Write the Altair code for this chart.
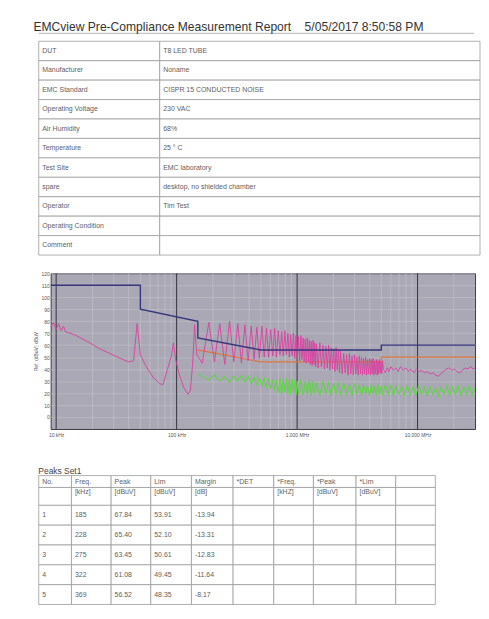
import altair as alt
import pandas as pd

FONT = "Liberation Sans"

# ---------------- report header ----------------
report_title = "EMCview Pre-Compliance Measurement Report"
report_time = "5/05/2017 8:50:58 PM"

info_fields = ["DUT", "Manufacturer", "EMC Standard", "Operating Voltage", "Air Humidity",
               "Temperature", "Test Site", "spare", "Operator", "Operating Condition", "Comment"]
info_values = ["T8 LED TUBE", "Noname", "CISPR 15 CONDUCTED NOISE", "230 VAC", "68%",
               "25 \u00b0 C", "EMC laboratory", "desktop, no shielded chamber", "Tim Test", "", ""]

# ---------------- spectrum (freq in kHz, level in dBuV) ----------------
qp_limit = [(9, 110), (50, 110), (50, 90), (150, 80), (150, 66), (500, 56),
            (5000, 56), (5000, 60), (30000, 60)]
av_limit = [(150, 56), (500, 46), (5000, 46), (5000, 50), (30000, 50)]

peak_trace = [
    (9, 75), (9.5, 79), (10, 73), (10.5, 78), (11, 72), (11.5, 76), (12, 71), (13, 70), (14, 69),
    (16, 66), (19, 62), (23, 57), (28, 53), (34, 49), (40, 46), (44, 47), (47, 78), (50, 52),
    (56, 42), (64, 33), (72, 28), (77, 27), (84, 40), (90, 50), (94, 62), (98, 48), (105, 36),
    (114, 25), (124, 19), (130, 22), (136, 45), (141, 77), (147, 52), (163, 45), (185, 79),
    (206, 46), (228, 78), (251, 44), (275, 80), (298, 46), (322, 78), (345, 45), (369, 77),
    (392, 47), (416, 76), (440, 48), (463, 75), (486, 49), (510, 76), (533, 50), (557, 74),
    (580, 50), (604, 73), (627, 51), (651, 74), (674, 50), (698, 72), (721, 52), (745, 71),
    (768, 51), (792, 72), (815, 52), (839, 70), (862, 50), (886, 69), (909, 51), (933, 70),
    (956, 49), (980, 68), (1003, 48), (1027, 67), (1050, 47), (1074, 68), (1097, 48), (1121, 66),
    (1144, 46), (1168, 65), (1191, 45), (1215, 66), (1238, 46), (1262, 64), (1285, 44), (1309, 63),
    (1332, 43), (1356, 64), (1379, 44), (1403, 62), (1426, 42), (1450, 61), (1497, 41), (1544, 62),
    (1591, 42), (1638, 60), (1685, 40), (1732, 59), (1779, 41), (1826, 60), (1873, 39), (1920, 58),
    (1967, 40), (2014, 57), (2061, 38), (2108, 58), (2155, 39), (2202, 56), (2249, 37), (2296, 55),
    (2366, 36), (2437, 53), (2507, 37), (2578, 52), (2648, 35), (2719, 53), (2789, 36), (2860, 51),
    (2930, 35), (3001, 52), (3071, 36), (3142, 50), (3212, 35), (3283, 51), (3353, 36), (3424, 50),
    (3494, 35), (3565, 49), (3635, 36), (3706, 50), (3776, 35), (3847, 48), (3917, 36), (3988, 49),
    (4058, 35), (4129, 48), (4199, 36), (4270, 49), (4340, 35), (4411, 47), (4481, 36), (4552, 48),
    (4622, 35), (4693, 47), (4763, 36), (4834, 48), (4904, 37), (4975, 46), (5045, 36), (5116, 47),
    (5200, 40), (5400, 37), (5600, 41), (5800, 38), (6000, 42), (6300, 39), (6600, 41), (6900, 38),
    (7200, 42), (7600, 39), (8000, 41), (8400, 38), (8800, 40), (9300, 37), (9800, 40), (10300, 38),
    (10800, 39), (11400, 37), (12000, 38), (12700, 36), (13400, 37), (14100, 35), (14800, 34),
    (15600, 36), (16400, 38), (17300, 40), (18200, 41), (19200, 39), (20200, 40), (21300, 38),
    (22400, 37), (23600, 39), (24800, 41), (26100, 40), (27500, 42), (29000, 40), (30000, 41),
]

average_trace = [
    (150, 36), (185, 31), (206, 35), (228, 30), (251, 34), (275, 29), (298, 34), (322, 30),
    (345, 35), (369, 29), (392, 34), (416, 28), (440, 33), (463, 27), (486, 33), (510, 26),
    (533, 32), (557, 25), (580, 32), (604, 24), (627, 31), (651, 22), (674, 31), (698, 20),
    (721, 32), (745, 19), (768, 31), (792, 20), (815, 33), (839, 19), (862, 31), (886, 18),
    (909, 32), (933, 20), (956, 31), (980, 18), (1003, 30), (1027, 19), (1074, 31), (1121, 18),
    (1168, 30), (1215, 19), (1262, 31), (1309, 18), (1356, 30), (1403, 19), (1450, 29), (1544, 18),
    (1638, 30), (1732, 19), (1826, 29), (1920, 18), (2014, 28), (2108, 19), (2202, 29), (2296, 18),
    (2437, 28), (2578, 19), (2719, 27), (2860, 18), (3001, 28), (3142, 19), (3283, 27), (3424, 18),
    (3565, 27), (3706, 19), (3847, 26), (3988, 18), (4129, 27), (4270, 19), (4411, 26), (4552, 18),
    (4693, 27), (4834, 19), (4975, 26), (5116, 18), (5400, 27), (5700, 19), (6000, 26), (6300, 18),
    (6600, 26), (7000, 19), (7400, 25), (7800, 18), (8200, 26), (8700, 19), (9200, 25), (9700, 18),
    (10200, 26), (10800, 19), (11400, 25), (12000, 18), (12700, 25), (13400, 19), (14100, 24),
    (14900, 17), (15700, 25), (16600, 19), (17500, 26), (18500, 18), (19500, 25), (20600, 19),
    (21700, 26), (22900, 18), (24200, 25), (25500, 19), (26900, 26), (28400, 18), (30000, 24),
]

x_decades = [10, 100, 1000, 10000]
x_decade_labels = ["10 kHz", "100 kHz", "1.000 MHz", "10.000 MHz"]
x_minor_grid = [20, 30, 40, 50, 60, 70, 80, 90, 200, 300, 400, 500, 600, 700, 800, 900,
                2000, 3000, 4000, 5000, 6000, 7000, 8000, 9000, 20000]
y_tick_values = [0, 10, 20, 30, 40, 50, 60, 70, 80, 90, 100, 110, 120]
y_title = "Ref. (dBuV) dBuV"

# ---------------- peaks table ----------------
peaks_title = "Peaks Set1"
peaks_header1 = ["No.", "Freq.", "Peak", "Lim", "Margin", "*DET", "*Freq.", "*Peak", "*Lim", ""]
peaks_header2 = ["", "[kHz]", "[dBuV]", "[dBuV]", "[dB]", "", "[kHZ]", "[dBuV]", "[dBuV]", ""]
peak_no = ["1", "2", "3", "4", "5"]
peak_freq = ["185", "228", "275", "322", "369"]
peak_level = ["67.84", "65.40", "63.45", "61.08", "56.52"]
peak_limit = ["53.91", "52.10", "50.61", "49.45", "48.35"]
peak_margin = ["-13.94", "-13.31", "-12.83", "-11.64", "-8.17"]

# ---------------- layout / style ----------------
TXT = "#5e5e5e"
GRIDLINE = "#9c9c9c"
SHIFT = 12                      # tables start left of the spectrum plot area
INFO_COL_W = [122, 323]
INFO_ROW_H = 19.6
PK_COL_W = [33, 40, 40, 41, 42, 41, 40, 43, 40, 40]
PK_ROW_H = [12, 18, 20, 20, 20, 20, 20]
PK_TEXT_OFF = [6, 5, 10, 10, 10, 10, 10]
SPEC_W, SPEC_H = 428, 157


def table_cells(rows, col_w, row_h, text_off):
    cells = []
    y = 0
    for r, row in enumerate(rows):
        x = 0
        for c, txt in enumerate(row):
            cells.append(dict(x0=x, x1=x + col_w[c], y0=y, y1=y + row_h[r],
                              tx=x + 3.5, ty=y + text_off[r], text=txt))
            x += col_w[c]
        y += row_h[r]
    return pd.DataFrame(cells), x, y


def table_chart(df, width, height, font_size, extra=None):
    xs = alt.Scale(domain=[0, width], range=[-SHIFT, width - SHIFT], nice=False, zero=False)
    ys = alt.Scale(domain=[0, height], range=[0, height], nice=False, zero=False)
    base = alt.Chart(df)
    rect = base.mark_rect(fill="white", stroke=GRIDLINE, strokeWidth=0.8).encode(
        x=alt.X("x0:Q", scale=xs, axis=None), x2="x1:Q",
        y=alt.Y("y0:Q", scale=ys, axis=None), y2="y1:Q")
    text = base.mark_text(align="left", baseline="middle", font=FONT, fontSize=font_size,
                          color=TXT).encode(
        x=alt.X("tx:Q", scale=xs, axis=None),
        y=alt.Y("ty:Q", scale=ys, axis=None),
        text="text:N")
    layers = [rect, text] + ([extra] if extra is not None else [])
    return alt.layer(*layers).properties(width=width - SHIFT, height=height,
                                         view=alt.ViewBackground(strokeWidth=0))


# info table (with the thin rule under the report title)
info_rows = [[f, v] for f, v in zip(info_fields, info_values)]
info_df, info_w, info_h = table_cells(info_rows, INFO_COL_W, [INFO_ROW_H] * len(info_rows),
                                      [INFO_ROW_H / 2] * len(info_rows))
title_rule = alt.Chart(pd.DataFrame({"a": [0]})).mark_rule(color="#c4c4c4", strokeWidth=1.2).encode(
    x=alt.value(-SHIFT), x2=alt.value(info_w - SHIFT - 6), y=alt.value(-8))
info_chart = table_chart(info_df, info_w, info_h, 7, extra=title_rule)

# peaks table
pk_rows = [peaks_header1, peaks_header2]
for i in range(len(peak_no)):
    pk_rows.append([peak_no[i], peak_freq[i], peak_level[i], peak_limit[i], peak_margin[i],
                    "", "", "", "", ""])
pk_df, pk_w, pk_h = table_cells(pk_rows, PK_COL_W, PK_ROW_H, PK_TEXT_OFF)
peaks_chart = table_chart(pk_df, pk_w, pk_h, 7).properties(
    title=alt.TitleParams(peaks_title, anchor="start", font=FONT, fontSize=8.5,
                          fontWeight="normal", color="#444", offset=0))


# spectrum
def series(pairs):
    return pd.DataFrame({"freq": [p[0] for p in pairs], "level": [p[1] for p in pairs],
                         "i": list(range(len(pairs)))})


label_expr = " : ".join(
    f"datum.value == {v} ? '{t}'" for v, t in zip(x_decades, x_decade_labels)) + " : ''"
xscale = alt.Scale(type="log", domain=[9, 30000], nice=False)
yscale = alt.Scale(domain=[-10, 120], nice=False, zero=False)
xaxis = alt.Axis(values=x_decades, labelExpr=label_expr, grid=False, domain=False, ticks=False,
                 labelFontSize=5, labelFont=FONT, labelColor="#555", labelPadding=4, title=None)
yaxis = alt.Axis(values=y_tick_values, grid=True, gridColor="#c3c2cc", gridWidth=0.6,
                 domain=False, ticks=False, labelFontSize=5, labelFont=FONT, labelColor="#555",
                 labelPadding=1.5, title=y_title, titleFontSize=5, titleFont=FONT,
                 titleFontWeight="normal", titleColor="#555", titlePadding=2)
X = alt.X("freq:Q", scale=xscale, axis=xaxis)
Y = alt.Y("level:Q", scale=yscale, axis=yaxis)

minor = alt.Chart(pd.DataFrame({"freq": x_minor_grid})).mark_rule(
    color="#c6c5cf", strokeWidth=0.6).encode(x=X)
decade = alt.Chart(pd.DataFrame({"freq": x_decades})).mark_rule(
    color="#34343e", strokeWidth=1).encode(x=X)


def trace(pairs, color, width):
    return alt.Chart(series(pairs)).mark_line(color=color, strokeWidth=width, clip=True).encode(
        x=X, y=Y, order="i:Q")


spectrum = alt.layer(
    minor, decade,
    trace(average_trace, "#62d447", 1.1),
    trace(av_limit, "#e0763e", 1.2),
    trace(peak_trace, "#d9409f", 0.9),
    trace(qp_limit, "#35357c", 1.4),
).properties(width=SPEC_W, height=SPEC_H,
             view=alt.ViewBackground(fill="#a9a8b4", stroke="#3a3a46", strokeWidth=1))

lower = alt.vconcat(spectrum, peaks_chart, spacing=28)
page = alt.vconcat(info_chart, lower, spacing=15).properties(
    title=alt.TitleParams(report_title + "\u00a0" * 4 + report_time, anchor="start", font=FONT,
                          fontSize=12.2, fontWeight="normal", color="#333", offset=0),
    padding={"left": 25, "top": 10, "right": 0, "bottom": 0},
).configure(background="white")

page.save("out.html", embed_options={"renderer": "svg", "actions": False})
